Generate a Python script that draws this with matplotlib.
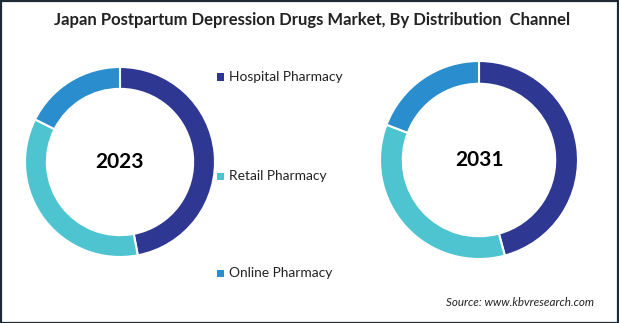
import matplotlib.pyplot as plt
from matplotlib.patches import Rectangle

plt.rcParams['font.family'] = ['Lato', 'DejaVu Sans']

channels = ['Hospital Pharmacy', 'Retail Pharmacy', 'Online Pharmacy']
share_2023 = [47.0, 35.4, 17.6]
share_2031 = [45.8, 35.0, 19.2]
years = ['2023', '2031']
colors = ['#2e3892', '#4dc4d0', '#2a8dcd']

W, H = 619, 323
fig = plt.figure(figsize=(W / 100, H / 100), dpi=100)
fig.patch.set_facecolor('white')


def donut(ax, values, label):
    ax.pie(values, colors=colors, startangle=90, counterclock=False,
           radius=1.0,
           wedgeprops=dict(width=0.23, edgecolor='white', linewidth=1.5))
    ax.text(0, 0, label, ha='center', va='center', fontsize=15,
            fontweight='bold', color='black')
    ax.set_xlim(-1, 1)
    ax.set_ylim(-1, 1)
    ax.set_aspect('equal')
    ax.axis('off')


# left ring: center (120, 162), radius ~95 px
r1 = 95
ax1 = fig.add_axes([(120 - r1) / W, 1 - (162 + r1) / H, 2 * r1 / W, 2 * r1 / H])
donut(ax1, share_2023, years[0])

# right ring: center (479, 160), radius ~99 px
r2 = 99
ax2 = fig.add_axes([(479 - r2) / W, 1 - (160 + r2) / H, 2 * r2 / W, 2 * r2 / H])
donut(ax2, share_2031, years[1])

# legend entries, stacked in the middle
legend_y = [77, 176, 273]
for name, col, y in zip(channels, colors, legend_y):
    fig.patches.append(Rectangle((217 / W, 1 - (y + 3.5) / H), 7 / W, 7 / H,
                                 transform=fig.transFigure, facecolor=col,
                                 edgecolor='none'))
    fig.text(229 / W, 1 - y / H, name, ha='left', va='center',
             fontsize=9.9, color='#222222')

fig.text(312 / W, 1 - 20 / H,
         'Japan Postpartum Depression Drugs Market, By Distribution  Channel',
         ha='center', va='center', fontsize=12, fontweight='bold',
         color='#222222')
fig.text(594 / W, 1 - 303 / H, 'Source: www.kbvresearch.com', ha='right',
         va='center', fontsize=8.4, style='italic', color='#222222')

# dark frame round the picture
fig.patches.append(Rectangle((0.5 / W, 0.5 / H), 1 - 1.5 / W, 1 - 1.5 / H,
                             transform=fig.transFigure, fill=False,
                             edgecolor='#1e2a36', linewidth=1.6))

fig.savefig('out.png', dpi=100)
